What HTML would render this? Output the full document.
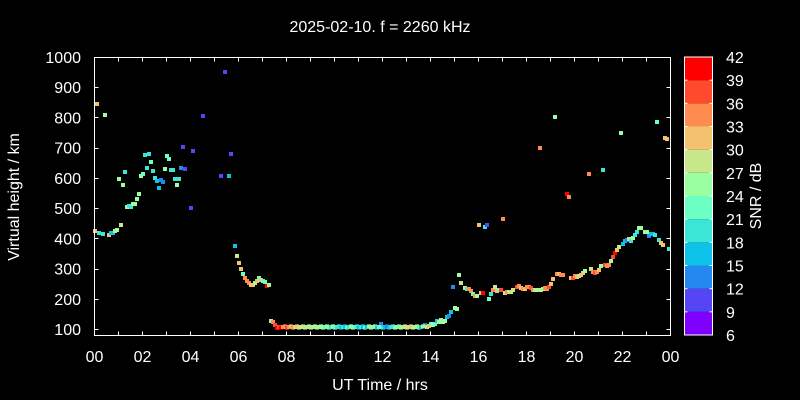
<!DOCTYPE html>
<html><head><meta charset="utf-8"><style>
html,body{margin:0;padding:0;background:#000;}
svg{display:block;}
text{font-family:"Liberation Sans",sans-serif;fill:#fff;}
</style></head><body>
<svg id="s" width="800" height="400" xmlns="http://www.w3.org/2000/svg">
<rect width="800" height="400" fill="#000"/>
<text x="380" y="32" font-size="16" text-anchor="middle">2025-02-10. f = 2260 kHz</text>
<text x="380" y="390" font-size="16" text-anchor="middle">UT Time / hrs</text>
<text transform="translate(19,197) rotate(-90)" font-size="16" text-anchor="middle">Virtual height / km</text>
<text transform="translate(761,196) rotate(-90)" font-size="16" text-anchor="middle">SNR / dB</text>
<g id="pts"></g>
<g id="axes" stroke="#fff" stroke-width="1" fill="none"></g>
<g id="lbl"></g>
</svg>
<script>
var P=['#7f00ff','#5545f7','#2389f0','#0dc2e8','#3ce6d7','#6bffc4','#99ffa0','#c8e68a','#f2c26e','#ff8c4f','#ff4a2e','#ff0000'];
var d=[[95,231,8],[97,104,8],[105,115,6],[99,233,4],[103,234,4],[109,235,8],[111,233,3],[113,233,3],[115,231,7],[117,230,6],[121,225,7],[119,179,6],[123,185,6],[125,172,4],[127,207,6],[129,206,4],[131,207,4],[133,204,6],[135,204,6],[137,199,6],[139,194,6],[141,176,6],[143,174,5],[145,155,4],[147,168,4],[149,154,4],[151,162,5],[153,171,4],[155,178,4],[157,181,3],[159,188,3],[161,180,2],[163,182,2],[165,169,6],[167,156,5],[169,159,5],[171,170,4],[173,170,4],[175,179,4],[177,185,6],[179,179,4],[181,168,2],[183,147,1],[185,169,1],[193,151,1],[191,208,1],[203,116,1],[225,72,1],[221,176,1],[229,176,3],[231,154,1],
[235,246,3],[237,256,7],[239,263,8],[241,269,8],[243,274,5],[245,278,9],[247,281,9],[249,283,9],[251,285,8],[253,285,8],[255,283,6],[257,281,8],[259,278,5],[261,280,8],[263,281,5],[265,282,5],[267,286,11],[269,285,6],[271,321,6],[273,322,9],[275,325,10],[277,328,11],[279,327,10],[381,324,2],
[425,325,2],[427,327,7],[429,326,8],[431,324,5],[433,325,6],[435,324,5],[437,321,3],[439,322,6],[441,320,7],[443,322,6],[445,321,6],[447,317,3],[449,316,2],[451,312,3],[455,308,6],[457,309,6],[453,287,2],
[459,275,6],[461,283,7],[465,288,7],[467,289,4],[469,289,9],[471,291,9],[473,294,5],[475,296,9],[477,296,6],[481,293,8],[483,293,11],[489,299,5],[491,294,4],[493,290,9],[495,287,7],[497,291,8],[499,290,5],[501,290,10],[505,293,7],[507,292,9],[509,292,7],[511,292,7],[513,290,7],[517,287,10],[519,286,9],[521,288,8],[523,289,9],[525,289,8],[527,287,9],[529,287,9],[531,288,10],[533,290,9],[535,290,7],[537,290,6],[541,290,7],[543,289,6],[545,288,9],[547,289,9],[549,287,10],[551,284,8],[553,279,8],[557,274,9],[559,274,8],[561,275,9],[563,275,9],[571,278,8],[573,278,10],[575,276,9],[577,277,8],[579,276,7],[581,275,8],[583,273,8],[585,271,6],[591,269,7],[593,272,9],[595,273,10],[597,272,9],[599,270,8],[601,266,6],[605,265,10],[607,266,9],[609,265,9],[611,261,6],[613,257,10],[615,253,11],[617,250,8],[619,247,7],[623,244,3],[625,241,3],[627,240,2],[629,239,7],[631,241,4],[633,238,6],[635,235,4],[637,232,4],[639,228,6],[641,228,6],[645,232,6],[647,232,6],[649,236,2],[651,234,3],[653,234,3],[655,235,4],[659,240,4],[661,243,8],[663,245,8],[669,249,4],
[479,225,8],[485,227,4],[487,225,1],[503,219,9],[567,194,11],[569,197,9],[589,174,9],[603,170,4],[621,133,6],[657,122,5],[665,138,8],[667,139,8],[555,117,6],[540,148,9]];
var band=[[281,11],[283,9],[285,9],[287,10],[289,9],[291,8],[293,9],[295,7],[297,8],[299,7],[301,7],[303,7],[305,7],[307,7],[309,6],[311,7],[313,6],[315,6],[317,7],[319,6],[321,6],[323,6],[325,5],[327,6],[329,5],[331,4],[333,6],[335,5],[337,4],[339,4],[341,3],[343,4],[345,3],[347,5],[349,4],[351,6],[353,6],[355,5],[357,4],[359,3],[361,4],[363,3],[365,5],[367,3],[369,6],[371,7],[373,5],[375,6],[377,3],[379,5],[383,4],[385,3],[387,2],[389,3],[391,4],[393,4],[395,6],[397,6],[399,5],[401,7],[403,6],[405,7],[407,7],[409,7],[411,8],[413,7],[415,6],[417,7],[419,5],[421,3],[423,6]];
band.forEach(function(b){d.push([b[0],327+((b[0]*7)%3-1)*0.6,b[1]]);});
var g=document.getElementById('pts'),h='';
d.forEach(function(p){h+='<rect x="'+(p[0]-2)+'" y="'+(p[1]-2)+'" width="4" height="4" fill="'+P[p[2]]+'"/>';});
g.innerHTML=h;
var L=94.5,R=670.5,T=57.5,B=335.5,a='',l='';
a+='<rect x="'+L+'" y="'+T+'" width="'+(R-L)+'" height="'+(B-T)+'"/>';
for(var i=0;i<=24;i++){var x=L+i*24;a+='<line x1="'+x+'" y1="'+B+'" x2="'+x+'" y2="'+(B-4)+'"/><line x1="'+x+'" y1="'+T+'" x2="'+x+'" y2="'+(T+4)+'"/>';
 if(i%2==0){var s=(i%24<10?'0':'')+(i%24);l+='<text x="'+x+'" y="362" font-size="16" text-anchor="middle">'+s+'</text>';}}
for(var v=100;v<=1000;v+=100){var y=57+(1000-v)*272/900;var yy=Math.round(y)+0.5;a+='<line x1="'+L+'" y1="'+yy+'" x2="'+(L+4)+'" y2="'+yy+'"/><line x1="'+R+'" y1="'+yy+'" x2="'+(R-4)+'" y2="'+yy+'"/>';
 l+='<text x="81" y="'+(y+6)+'" font-size="16" text-anchor="end">'+v+'</text>';}
var cb='',cx=684.5,cw=28,ct=57,ch=278;
for(var k=0;k<12;k++){var y0=ct+(11-k)*ch/12;cb+='<rect x="'+cx+'" y="'+y0+'" width="'+cw+'" height="'+(ch/12)+'" fill="'+P[k]+'" stroke="none"/>';}
for(var k=0;k<=12;k++){var y=ct+k*ch/12;l+='<text x="726" y="'+(y+6)+'" font-size="16">'+(42-3*k)+'</text>';
 if(k>0&&k<12)a+='<line x1="'+cx+'" y1="'+y+'" x2="'+(cx+3)+'" y2="'+y+'"/><line x1="'+(cx+cw)+'" y1="'+y+'" x2="'+(cx+cw-3)+'" y2="'+y+'"/>';}
a+='<rect x="'+cx+'" y="'+ct+'" width="'+cw+'" height="'+ch+'"/>';
document.getElementById('axes').innerHTML=cb+a;
document.getElementById('lbl').innerHTML=l;
</script>
</body></html>
